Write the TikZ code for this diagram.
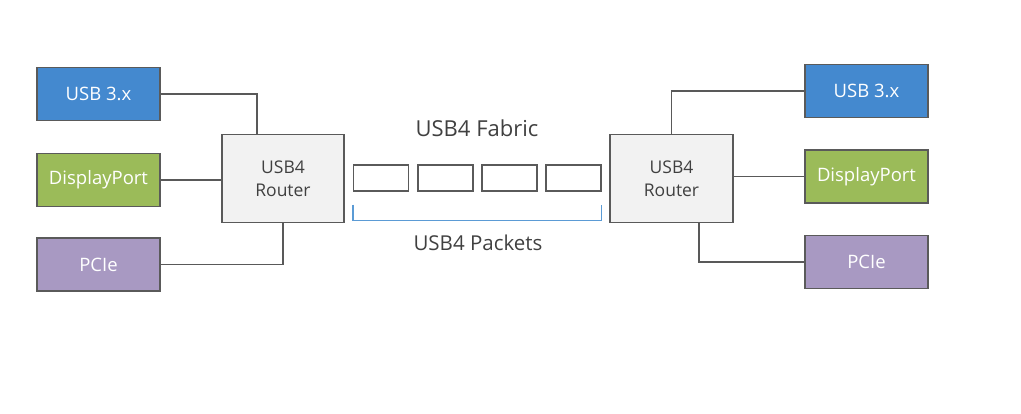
\documentclass[tikz,border=0pt]{standalone}
\usepackage{fontspec}
\setmainfont{Open Sans}
\definecolor{usbblue}{HTML}{4489CF}
\definecolor{dpgreen}{HTML}{9BBB59}
\definecolor{pciepurple}{HTML}{A899C2}
\definecolor{edgegray}{HTML}{5A5A5A}
\definecolor{wiregray}{HTML}{595959}
\definecolor{textgray}{HTML}{404040}
\definecolor{routerfill}{HTML}{F2F2F2}
\definecolor{bracketblue}{HTML}{5B9BD5}
\begin{document}
\begin{tikzpicture}[x=1pt,y=-1pt,
  portbox/.style={draw=edgegray, line width=1.3pt, minimum width=123pt, minimum height=53pt, inner sep=0pt, text=white, font=\fontsize{18.5}{20}\selectfont},
  routerbox/.style={draw=edgegray, line width=1.3pt, fill=routerfill, minimum width=122pt, minimum height=88pt, inner sep=0pt, text=textgray, align=center, font=\fontsize{17.5}{23}\selectfont},
  packetbox/.style={draw=edgegray, line width=1.3pt, fill=white, minimum width=55pt, minimum height=26pt, inner sep=0pt},
  wire/.style={draw=wiregray, line width=1.3pt},
  lbl/.style={text=textgray}]
\useasboundingbox (0,0) rectangle (1021,414);
% left side
\node[portbox, fill=usbblue] (usbL) at (98.5,94) {USB 3.x};
\node[portbox, fill=dpgreen] (dpL) at (98.5,180) {DisplayPort};
\node[portbox, fill=pciepurple] (pcieL) at (98.5,264.5) {PCIe};
\node[routerbox] (routerL) at (283,178.5) {USB4\\Router};
% right side
\node[routerbox, minimum width=123pt] (routerR) at (671.5,178.5) {USB4\\Router};
\node[portbox, fill=usbblue] (usbR) at (866.5,91) {USB 3.x};
\node[portbox, fill=dpgreen] (dpR) at (866.5,176.5) {DisplayPort};
\node[portbox, fill=pciepurple] (pcieR) at (866.5,262) {PCIe};
% packets
\node[packetbox] (p1) at (381,178) {};
\node[packetbox] (p2) at (445.5,178) {};
\node[packetbox] (p3) at (509.5,178) {};
\node[packetbox] (p4) at (573.5,178) {};
\node[lbl, font=\fontsize{22}{26}\selectfont] (fabric) at (477,128) {USB4 Fabric};
\node[lbl, font=\fontsize{20.5}{24}\selectfont] (packets) at (478,243) {USB4 Packets};
% wires
\draw[wire] (usbL.east) -| ([xshift=-26pt]routerL.north);
\draw[wire] (dpL.east) -- (dpL.east -| routerL.west);
\draw[wire] (pcieL.east) -| (routerL.south);
\draw[wire] (routerR.north) |- (usbR.west);
\draw[wire] (dpR.west -| routerR.east) -- (dpR.west);
\draw[wire] ([xshift=27.5pt]routerR.south) |- (pcieR.west);
% bracket
\draw[bracketblue, line width=1.3pt] ([yshift=-13pt]p1.south west) -- ([yshift=-29pt]p1.south west) -- ([yshift=-29pt]p4.south east) -- ([yshift=-13pt]p4.south east);
\end{tikzpicture}
\end{document}
